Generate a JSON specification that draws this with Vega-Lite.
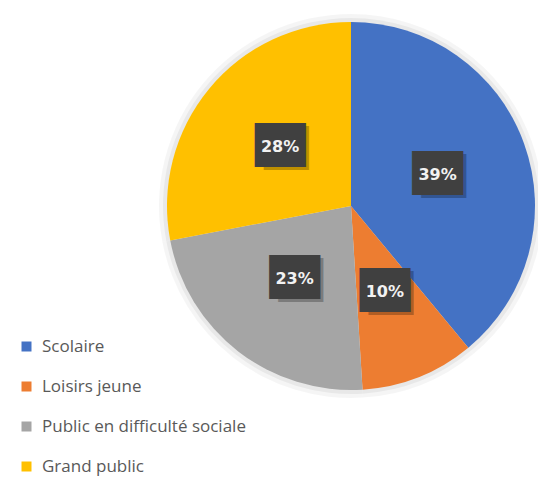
{
  "$schema": "https://vega.github.io/schema/vega-lite/v6.json",
  "width": 368,
  "height": 368,
  "autosize": {"type": "none"},
  "padding": {"left": 167, "top": 22, "right": 3, "bottom": 93},
  "background": "white",
  "view": {"stroke": null},
  "data": {
    "values": [
      {"cat": "Scolaire", "value": 39, "label": "39%", "ord": 1},
      {"cat": "Loisirs jeune", "value": 10, "label": "10%", "ord": 2},
      {"cat": "Public en difficulté sociale", "value": 23, "label": "23%", "ord": 3},
      {"cat": "Grand public", "value": 28, "label": "28%", "ord": 4}
    ]
  },
  "encoding": {
    "theta": {"field": "value", "type": "quantitative", "stack": true},
    "order": {"field": "ord", "type": "quantitative"},
    "color": {
      "field": "cat",
      "type": "nominal",
      "sort": ["Scolaire", "Loisirs jeune", "Public en difficulté sociale", "Grand public"],
      "scale": {
        "domain": ["Scolaire", "Loisirs jeune", "Public en difficulté sociale", "Grand public"],
        "range": ["#4472C4", "#ED7D31", "#A5A5A5", "#FFC000"]
      },
      "legend": {
        "orient": "none",
        "legendX": -149,
        "legendY": 316,
        "title": null,
        "symbolType": "square",
        "symbolSize": 100,
        "symbolStrokeWidth": 0,
        "labelFont": "Open Sans",
        "labelFontSize": 17,
        "labelColor": "#595959",
        "labelLimit": 400,
        "rowPadding": 22,
        "labelOffset": 7
      }
    }
  },
  "layer": [
    {"mark": {"type": "arc", "outerRadius": 192, "opacity": 0.04}, "encoding": {"color": {"value": "#000000"}}},
    {"mark": {"type": "arc", "outerRadius": 188, "opacity": 0.05}, "encoding": {"color": {"value": "#000000"}}},
    {"mark": {"type": "arc", "outerRadius": 184}},
    {"mark": {"type": "text", "radius": 92, "text": "██", "font": "DejaVu Sans Mono", "fontSize": 37, "dx": 6, "dy": 3, "opacity": 0.25, "baseline": "middle", "align": "center"}, "encoding": {"color": {"value": "#000000"}}},
    {"mark": {"type": "text", "radius": 92, "text": "██", "font": "DejaVu Sans Mono", "fontSize": 37, "dx": -3, "baseline": "middle", "align": "center"}, "encoding": {"color": {"value": "#404040"}}},
    {"mark": {"type": "text", "radius": 92, "text": "██", "font": "DejaVu Sans Mono", "fontSize": 37, "dx": 3, "baseline": "middle", "align": "center"}, "encoding": {"color": {"value": "#404040"}}},
    {"mark": {"type": "text", "radius": 92, "font": "DejaVu Sans", "fontWeight": "bold", "fontSize": 16, "baseline": "middle", "align": "center"}, "encoding": {"text": {"field": "label"}, "color": {"value": "#F2F2F2"}}}
  ]
}
